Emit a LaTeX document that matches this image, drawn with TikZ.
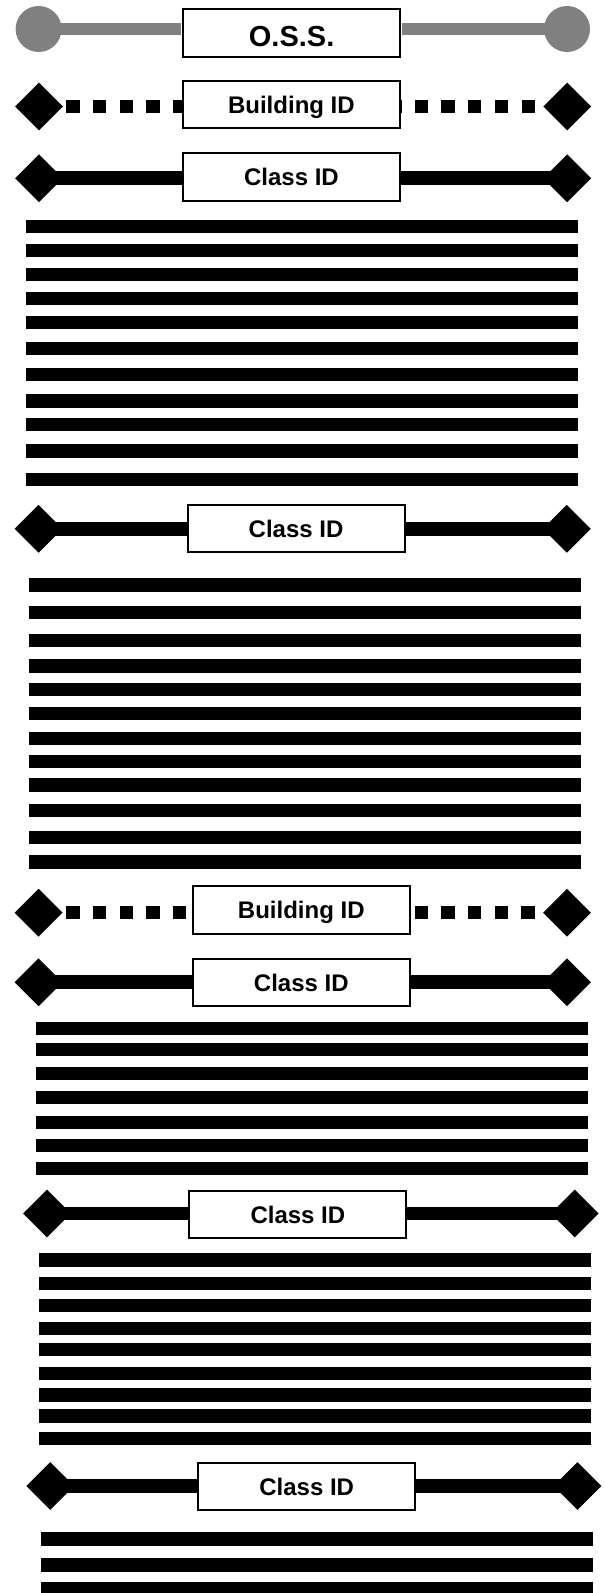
\documentclass[tikz,border=0pt]{standalone}
\usepackage{fontspec}
\setmainfont{Liberation Sans}
\usepackage{tikz}
\usetikzlibrary{shapes.geometric}
\definecolor{ossgray}{HTML}{808080}
\tikzset{idbox/.style = {shape = rectangle, draw, fill = white, line width = 2pt, minimum width = 217pt, minimum height = 47.5pt, inner sep = 0pt, font = \bfseries\fontsize{24}{28}\selectfont, text height = 17.2pt, text depth = 0pt}}
\tikzset{endpoint/.style = {shape = diamond, fill, inner sep = 0pt, minimum width = 48pt, minimum height = 48pt}}
\tikzset{ossend/.style = {shape = circle, fill = ossgray, inner sep = 0pt, minimum size = 46pt}}
\tikzset{osslink/.style = {-, draw = ossgray, line width = 11.7pt, shorten > = 1pt}}
\tikzset{link/.style = {-, line width = 13.8pt}}
\tikzset{dotlink/.style = {-, line width = 13.3pt, dash pattern = on 13.3pt off 13.4pt}}
\tikzset{stripe/.style = {line width = 13.3pt}}

\begin{document}
\begin{tikzpicture}[x = 1pt, y = -1pt]
	\useasboundingbox (0, 0) rectangle (605, 1593);

	\node[idbox, font = \bfseries\fontsize{29}{32}\selectfont, text height = 27.8pt] (oss) at (291.6, 33) {O.S.S.};
	\node[ossend] (o1) at (38.6, 29) {};
	\node[ossend] (o2) at (567, 29) {};
	\draw[osslink] (o1.center) -- (o1.center -| oss.west);
	\draw[osslink] (o2.center) -- (o2.center -| oss.east);

	\node[idbox] (b1) at (291.4, 104.7) {Building ID};
	\node[endpoint] (b1l) at (39, 106.5) {};
	\node[endpoint] (b1r) at (567.2, 106.5) {};
	\draw[dotlink, dash phase = 23.7pt] (b1l.east) -- (b1l.east -| b1.west);
	\draw[dotlink, dash phase = 18.5pt] (b1r.west) -- (b1r.west -| b1.east);

	\node[idbox] (c1) at (291.5, 177) {Class ID};
	\node[endpoint] (c1l) at (39, 178.3) {};
	\node[endpoint] (c1r) at (567.2, 178.3) {};
	\draw[link] (c1l.center) -- (c1l.center -| c1.west);
	\draw[link] (c1r.center) -- (c1r.center -| c1.east);

	\foreach \y in {226.7, 250.3, 274.3, 298.3, 322.7, 348.7, 374.3, 401, 424.3, 451, 479.3}
		\draw[stripe] (25.5, \y) -- (578, \y);

	\node[idbox] (c2) at (296.1, 528.7) {Class ID};
	\node[endpoint] (c2l) at (38.6, 528.8) {};
	\node[endpoint] (c2r) at (566.8, 528.8) {};
	\draw[link] (c2l.center) -- (c2l.center -| c2.west);
	\draw[link] (c2r.center) -- (c2r.center -| c2.east);

	\foreach \y in {585, 612.3, 640.7, 666, 689.3, 713.3, 738.3, 761.7, 785, 810.7, 837.3, 862}
		\draw[stripe] (28.9, \y) -- (580.6, \y);

	\node[idbox] (b2) at (301.3, 909.8) {Building ID};
	\node[endpoint] (b2l) at (38.6, 912.7) {};
	\node[endpoint] (b2r) at (567, 912.7) {};
	\draw[dotlink, dash phase = 23.3pt] (b2l.east) -- (b2l.east -| b2.west);
	\draw[dotlink, dash phase = 18.5pt] (b2r.west) -- (b2r.west -| b2.east);

	\node[idbox] (c3) at (301.3, 982.5) {Class ID};
	\node[endpoint] (c3l) at (38.6, 982.3) {};
	\node[endpoint] (c3r) at (567, 982.3) {};
	\draw[link] (c3l.center) -- (c3l.center -| c3.west);
	\draw[link] (c3r.center) -- (c3r.center -| c3.east);

	\foreach \y in {1028.7, 1049.2, 1073.5, 1097.5, 1122.7, 1145.3, 1168.7}
		\draw[stripe] (35.9, \y) -- (588.4, \y);

	\node[idbox] (c4) at (297.9, 1214.5) {Class ID};
	\node[endpoint] (c4l) at (47, 1213.5) {};
	\node[endpoint] (c4r) at (574.8, 1213.5) {};
	\draw[link] (c4l.center) -- (c4l.center -| c4.west);
	\draw[link] (c4r.center) -- (c4r.center -| c4.east);

	\foreach \y in {1260, 1283.3, 1305.7, 1328.7, 1349.7, 1373.3, 1395, 1416, 1438.3}
		\draw[stripe] (38.6, \y) -- (591, \y);

	\node[idbox] (c5) at (306.7, 1486.5) {Class ID};
	\node[endpoint] (c5l) at (50.2, 1486) {};
	\node[endpoint] (c5r) at (577.5, 1486) {};
	\draw[link] (c5l.center) -- (c5l.center -| c5.west);
	\draw[link] (c5r.center) -- (c5r.center -| c5.east);

	\foreach \y in {1539, 1565, 1589}
		\draw[stripe] (41.3, \y) -- (593, \y);
\end{tikzpicture}
\end{document}
